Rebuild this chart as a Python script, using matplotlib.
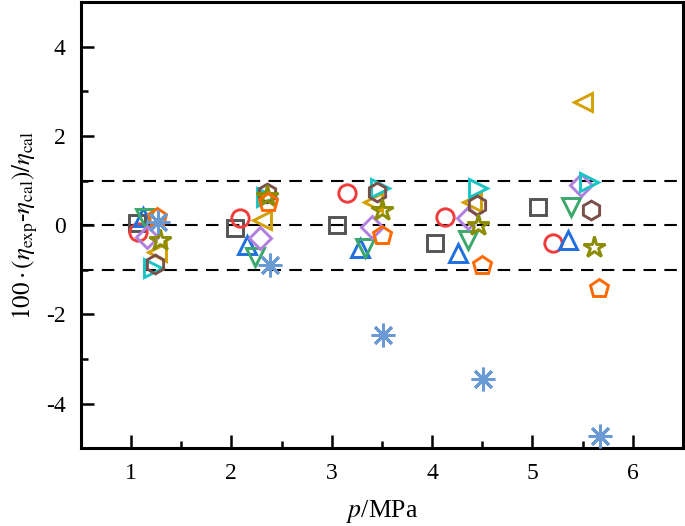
import numpy as np
import matplotlib
matplotlib.use('Agg')
import matplotlib.pyplot as plt

plt.rcParams['font.family'] = ['Liberation Serif', 'DejaVu Serif']
plt.rcParams['mathtext.fontset'] = 'stix'
plt.rcParams['axes.unicode_minus'] = False

# values: (p in MPa, deviation in %)
sq_x = [1.06, 2.04, 3.05, 4.03, 5.06]
sq_y = [0.04, -0.07, 0.00, -0.40, 0.40]
ci_x = [1.07, 2.09, 3.15, 4.13, 5.21]
ci_y = [-0.15, 0.16, 0.71, 0.18, -0.40]
up_x = [1.12, 2.16, 3.28, 4.26, 5.35]
up_y = [0.18, -0.45, -0.52, -0.62, -0.33]
dn_x = [1.14, 2.24, 3.33, 4.36, 5.38]
dn_y = [0.15, -0.71, -0.52, -0.33, 0.40]
di_x = [1.16, 2.29, 3.40, 4.36, 5.48]
di_y = [-0.27, -0.29, -0.04, 0.16, 0.89]
lt_x = [1.26, 2.31, 3.41, 4.40, 5.50]
lt_y = [-0.60, 0.11, 0.51, 0.51, 2.75]
rt_x = [1.22, 2.35, 3.48, 4.46, 5.56]
rt_y = [-0.95, 0.62, 0.83, 0.83, 0.96]
hx_x = [1.24, 2.36, 3.45, 4.45, 5.58]
hx_y = [-0.87, 0.71, 0.74, 0.45, 0.33]
st_x = [1.29, 2.36, 3.50, 4.46, 5.61]
st_y = [-0.33, 0.66, 0.34, 0.00, -0.49]
pt_x = [1.26, 2.37, 3.50, 4.50, 5.66]
pt_y = [0.18, 0.51, -0.22, -0.89, -1.41]
as_x = [1.27, 2.39, 3.51, 4.51, 5.67]
as_y = [0.07, -0.89, -2.46, -3.46, -4.73]

series = [
    (sq_x, sq_y, 's', '#545454', 11),
    (ci_x, ci_y, 'o', '#f03c3c', 12.5),
    (up_x, up_y, '^', '#1f6fde', 13.5),
    (dn_x, dn_y, 'v', '#3aa86a', 13.5),
    (di_x, di_y, 'D', '#b07fe0', 11),
    (lt_x, lt_y, '<', '#d4a000', 13.5),
    (rt_x, rt_y, '>', '#19c4c4', 13.5),
    (hx_x, hx_y, 'h', '#7a4f4a', 13.5),
    (st_x, st_y, '*', '#8c8c00', 16),
    (pt_x, pt_y, 'p', '#ff6a00', 13.5),
    (as_x, as_y, (8, 2, 0), '#6a9ad4', 17),
]

fig = plt.figure(figsize=(6.85, 5.26), dpi=100)
ax = fig.add_axes([0.118, 0.148, 0.879, 0.848])

for yv in [1, 0, -1]:
    ax.axhline(yv, color='black', lw=1.5, ls=(0, (6, 4)), zorder=1)

for xs, ys, m, c, ms in series:
    ax.plot(xs, ys, ls='none', marker=m, ms=ms, mfc='none', mec=c, mew=2.1, zorder=3)

ax.set_xlim(0.5, 6.5)
ax.set_ylim(-5, 5)
ax.set_xticks([1, 2, 3, 4, 5, 6])
ax.set_xticks(np.arange(1.5, 6.5, 1.0), minor=True)
ax.set_yticks([-4, -2, 0, 2, 4])
ax.set_yticks([-3, -1, 1, 3], minor=True)
ax.tick_params(which='major', direction='in', length=9.5, width=1.8, labelsize=17, pad=11, top=False, right=False)
ax.tick_params(which='minor', direction='in', length=5, width=1.8, top=False, right=False)
for s in ax.spines.values():
    s.set_linewidth(2.2)

ax.set_xlabel(r'$p$/MPa', fontsize=18.5, labelpad=10)
ax.set_ylabel(r'$100\cdot(\eta_{\rm exp}$-$\eta_{\rm cal})/\eta_{\rm cal}$', fontsize=18, labelpad=4)

fig.savefig('out.png', dpi=100)
